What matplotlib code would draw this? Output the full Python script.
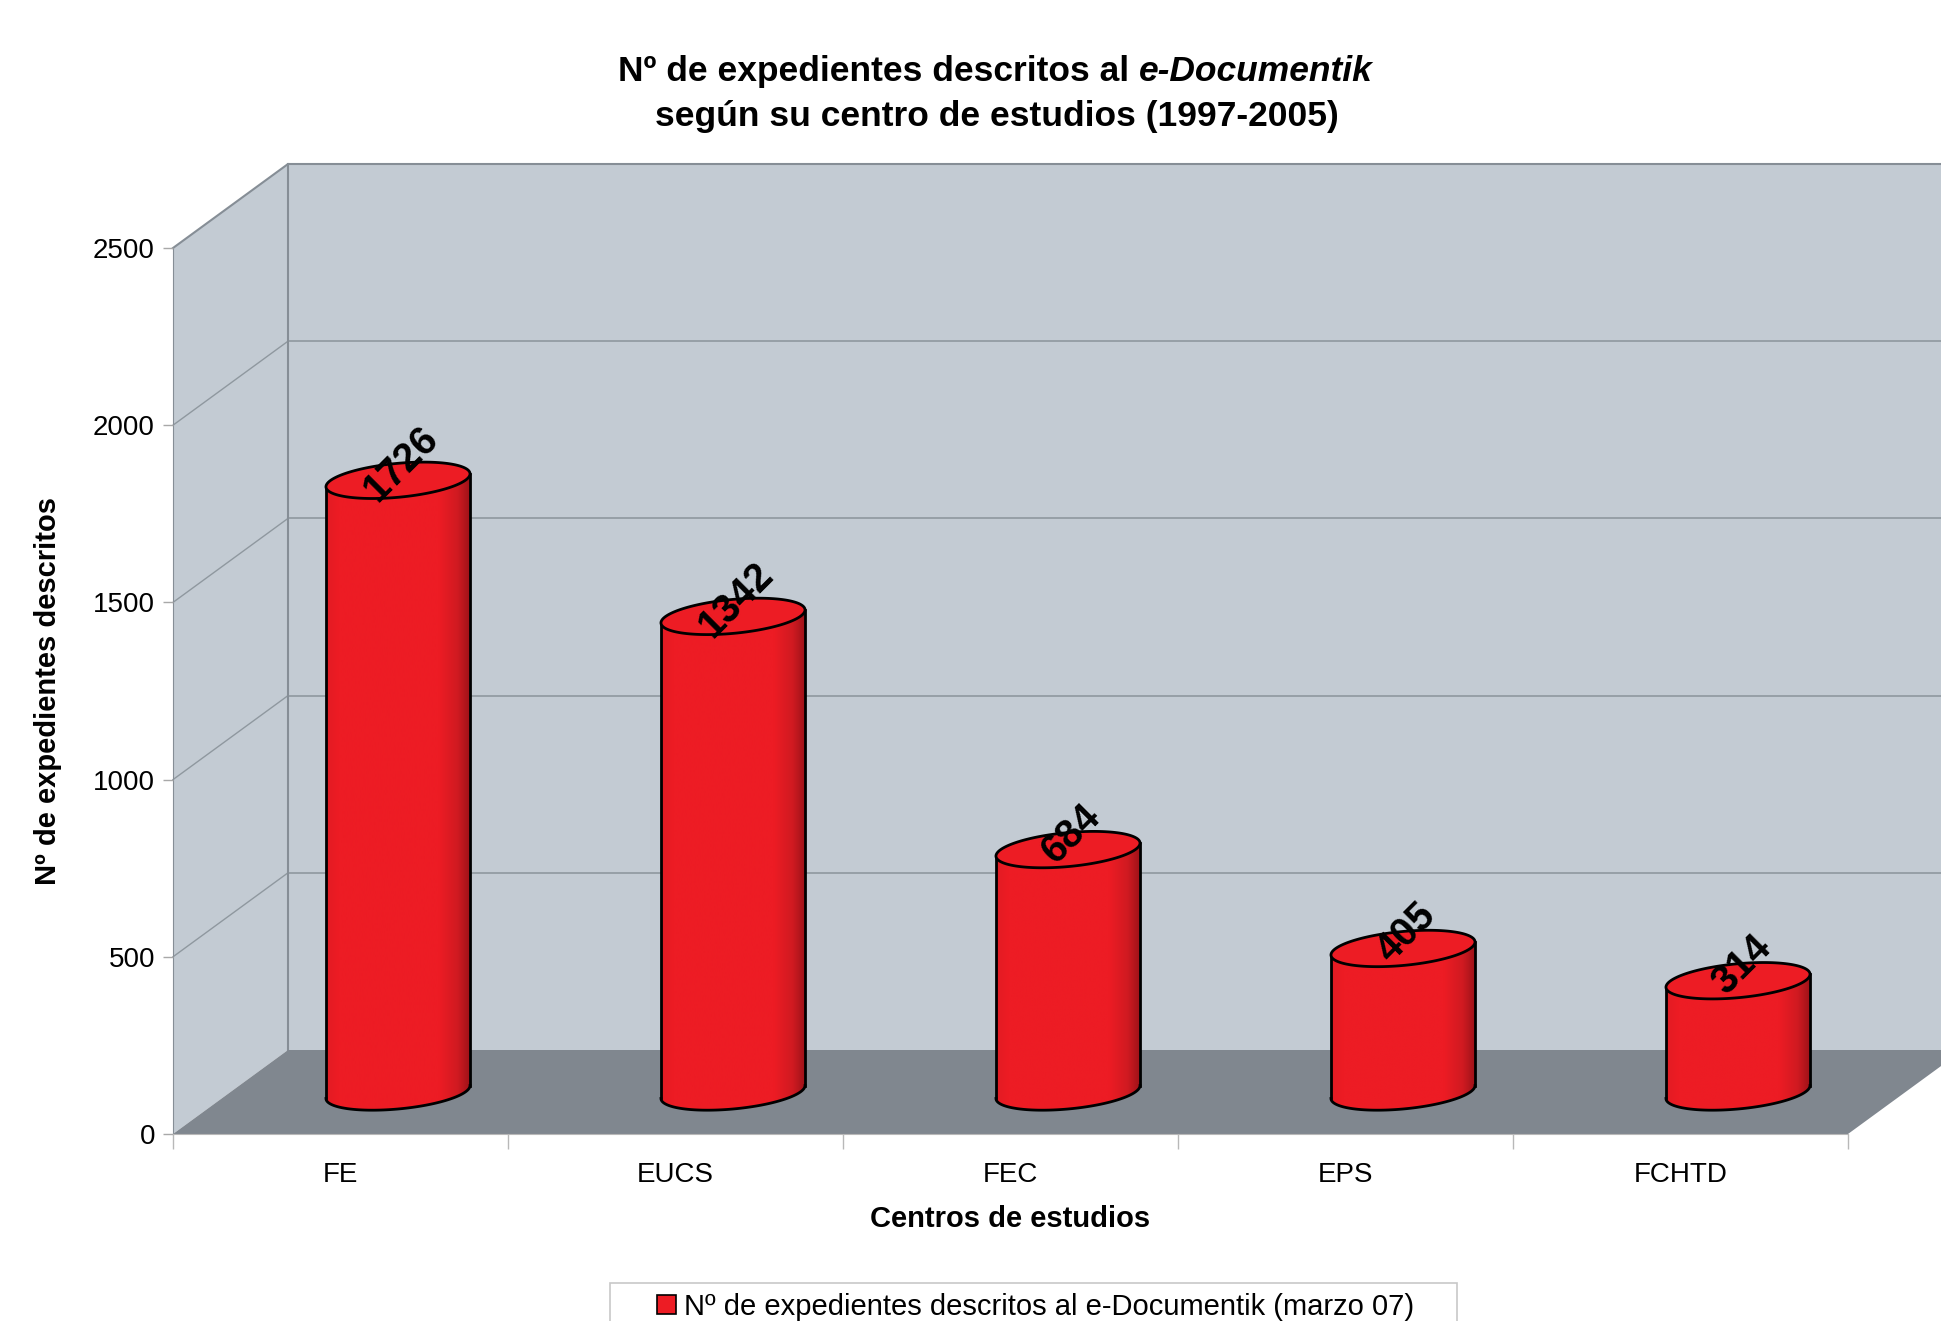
import matplotlib.pyplot as plt
import numpy as np
from matplotlib.patches import Polygon, Rectangle, Patch
from matplotlib.colors import LinearSegmentedColormap

plt.rcParams['font.family'] = ['Liberation Sans', 'DejaVu Sans']

centros = ['FE', 'EUCS', 'FEC', 'EPS', 'FCHTD']
expedientes = [1726, 1342, 684, 405, 314]
y_ticks = [0, 500, 1000, 1500, 2000, 2500]

titulo_1 = 'Nº de expedientes descritos al'
titulo_1_cursiva = 'e-Documentik'
titulo_2 = 'según su centro de estudios (1997-2005)'
eje_x = 'Centros de estudios'
eje_y = 'Nº de expedientes descritos'
leyenda = 'Nº de expedientes descritos al e-Documentik (marzo 07)'

W, H = 1941, 1321
fig = plt.figure(figsize=(W / 100, H / 100), dpi=100)

# plano frontal del gráfico (en píxeles): x 173..1848, y 1134 (0) .. 248 (2500)
ax = fig.add_axes([173 / W, (H - 1134) / H, 1675 / W, 886 / H])
ax.set_facecolor('none')
ax.set_autoscale_on(False)

n = len(centros)
ymax = y_ticks[-1]
px_unidad = 886 / ymax

# desplazamiento de la profundidad (perspectiva) en unidades de datos
DX = 115 / 335
DY = 84 / px_unidad

pared = '#C3CBD3'
suelo = '#80878F'
rejilla = '#8F989F'
borde = '#868E96'
rojo = '#ED1C24'

x0 = -0.5
x1 = n - 0.5

# pared lateral y pared de fondo
ax.add_patch(Polygon([(x0, 0), (x0, ymax), (x0 + DX, ymax + DY), (x0 + DX, DY)],
                     closed=True, fc=pared, ec='none', zorder=0.5, clip_on=False))
ax.add_patch(Rectangle((x0 + DX, DY), x1 + 1 - x0, ymax, fc=pared, ec='none',
                       zorder=0.5, clip_on=False))

# líneas de la rejilla
for v in y_ticks[1:-1]:
    ax.plot([x0, x0 + DX], [v, v + DY], color=rejilla, lw=1, zorder=0.6, clip_on=False)
    ax.plot([x0 + DX, x1 + 1], [v + DY, v + DY], color=rejilla, lw=1.2, zorder=0.6, clip_on=False)

# bordes de las paredes
ax.plot([x0, x0 + DX, x1 + 1], [ymax, ymax + DY, ymax + DY], color=borde, lw=1.5, zorder=0.6, clip_on=False)
ax.plot([x0 + DX, x0 + DX], [DY, ymax + DY], color=borde, lw=1.5, zorder=0.6, clip_on=False)

# suelo
ax.add_patch(Polygon([(x0, 0), (x1, 0), (x1 + DX, DY), (x0 + DX, DY)],
                     closed=True, fc=suelo, ec='none', zorder=0.7, clip_on=False))

# cilindros
a = 0.215                  # semiancho
b = 17 / px_unidad         # semialto de la elipse
s = 0.09 * 335 / px_unidad  # inclinación de la elipse
base = DY / 2

cmap = LinearSegmentedColormap.from_list('cil', [(0, '#E21B23'), (0.08, '#ED1C24'),
                                                 (0.78, '#ED1C24'), (0.91, '#D01A21'),
                                                 (1, '#9A1218')])
grad = np.linspace(0, 1, 256).reshape(1, -1)
t_bajo = np.linspace(np.pi, 2 * np.pi, 100)
t_todo = np.linspace(0, 2 * np.pi, 200)


def elipse(cx, cy, t):
    return cx + a * np.cos(t), cy + b * np.sin(t) + s * a * np.cos(t)


for i, v in enumerate(expedientes):
    cx = i + DX / 2
    top = v + base
    bx, by = elipse(cx, base, t_bajo)
    tx, ty = elipse(cx, top, t_bajo[::-1])
    cuerpo = Polygon(np.column_stack([np.r_[bx, tx], np.r_[by, ty]]), closed=True,
                     fc='none', ec='none', zorder=3)
    ax.add_patch(cuerpo)
    im = ax.imshow(grad, cmap=cmap, extent=(cx - a, cx + a, base - 2 * b, top + 2 * b),
                   aspect='auto', zorder=3, interpolation='bilinear')
    im.set_clip_path(cuerpo)
    ax.plot(bx, by, color='k', lw=2, zorder=4)
    ax.plot([cx - a, cx - a], [base - s * a, top - s * a], color='k', lw=2, zorder=4)
    ax.plot([cx + a, cx + a], [base + s * a, top + s * a], color='k', lw=2, zorder=4)
    ex, ey = elipse(cx, top, t_todo)
    ax.add_patch(Polygon(np.column_stack([ex, ey]), closed=True, fc=rojo, ec='k',
                         lw=2, zorder=4.5))
    ax.text(cx + 0.01, top + 45, str(v), rotation=45, ha='center', va='center',
            fontsize=28.5, fontweight='bold', zorder=5)

ax.set_xlim(x0, x1)
ax.set_ylim(0, ymax)

# ejes
ax.set_yticks(y_ticks)
ax.tick_params(axis='y', direction='out', length=7, width=1, color='#A8A8A8',
               labelsize=20, pad=6)
ax.set_xticks(np.arange(n + 1) - 0.5)
ax.set_xticklabels([])
ax.set_xticks(np.arange(n), minor=True)
ax.set_xticklabels(centros, minor=True)
ax.tick_params(axis='x', which='major', direction='out', length=11, width=1, color='#B8B8B8')
ax.tick_params(axis='x', which='minor', length=0, labelsize=20, pad=20)
for lado in ['top', 'right']:
    ax.spines[lado].set_visible(False)
ax.spines['left'].set_color(borde)
ax.spines['left'].set_zorder(0.8)
ax.spines['bottom'].set_color('#B8B8B8')

ax.set_ylabel(eje_y, fontsize=21, fontweight='bold')
ax.yaxis.set_label_coords(-0.066, 0.5)
ax.set_xlabel(eje_x, fontsize=21, fontweight='bold')
ax.xaxis.set_label_coords(0.5, -0.080)

# título (primera línea con parte en cursiva)
r = fig.canvas.get_renderer()
kw = dict(fontsize=25.5, fontweight='bold', va='baseline')
p1 = fig.text(0, 1 - 81 / H, titulo_1, **kw)
p2 = fig.text(0, 1 - 81 / H, titulo_1_cursiva, style='italic', **kw)
w1 = p1.get_window_extent(r).width
w2 = p2.get_window_extent(r).width
espacio = 0.28 * 25.5 * 100 / 72
x_ini = 995 - (w1 + espacio + w2) / 2
p1.set_x(x_ini / W)
p2.set_x((x_ini + w1 + espacio) / W)
fig.text(997 / W, 1 - 126 / H, titulo_2, ha='center', **kw)

# leyenda
fig.legend(handles=[Patch(facecolor=rojo, edgecolor='black', lw=1.2)], labels=[leyenda],
           loc='center', bbox_to_anchor=(1035.5 / W, (H - 1307) / H), frameon=False,
           fontsize=21, handlelength=0.65, handleheight=0.65, handletextpad=0.25)
fig.add_artist(Rectangle((610 / W, -0.05), 847 / W, 0.05 + (H - 1283) / H,
                         transform=fig.transFigure, fill=False, ec='#C8C8C8', lw=1.2))

fig.savefig('out.png', dpi=100)
